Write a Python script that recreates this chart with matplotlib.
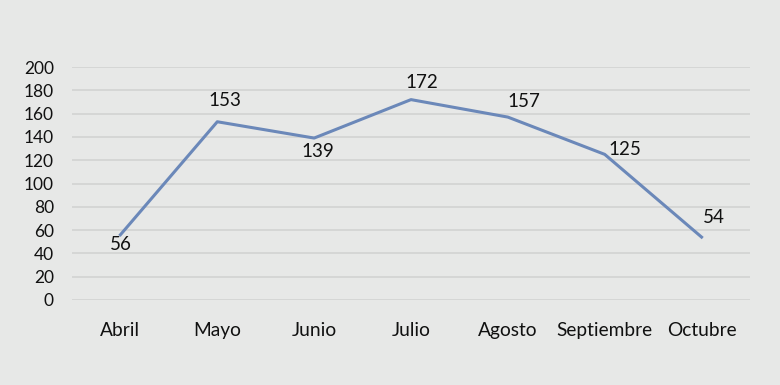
import matplotlib.pyplot as plt

# datos
meses = ['Abril', 'Mayo', 'Junio', 'Julio', 'Agosto', 'Septiembre', 'Octubre']
valores = [56, 153, 139, 172, 157, 125, 54]
y_ticks = [0, 20, 40, 60, 80, 100, 120, 140, 160, 180, 200]

# desplazamiento de las etiquetas (pixeles)
offsets = [(0, -10), (8, 21), (4, -13), (11, 17), (16, 16), (20, 5), (12, 20)]

plt.rcParams['font.family'] = ['Lato', 'DejaVu Sans']

bg = '#e7e8e7'
fig = plt.figure(figsize=(7.8, 3.85), dpi=100, facecolor=bg)
ax = fig.add_axes([72 / 780, 85 / 385, 678 / 780, 233 / 385])
ax.set_facecolor(bg)

x = range(len(meses))
ax.plot(x, valores, color='#6b88b9', linewidth=2.2, zorder=3)

for i, v in enumerate(valores):
    ax.annotate(str(v), (i, v), xytext=offsets[i], textcoords='offset pixels',
                ha='center', va='center', fontsize=13.5, color='#111111')

ax.set_xlim(-0.5, len(meses) - 0.5)
ax.set_ylim(0, 200)
ax.set_yticks(y_ticks)
ax.set_xticks(list(x))
ax.set_xticklabels(meses)
ax.tick_params(axis='y', length=0, pad=13, labelsize=12.5, labelcolor='#111111')
ax.tick_params(axis='x', length=0, pad=16, labelsize=13.8, labelcolor='#111111')
ax.grid(axis='y', color='#d2d3d2', linewidth=1.2)
ax.set_axisbelow(True)
for s in ax.spines.values():
    s.set_visible(False)

fig.savefig('out.png', dpi=100, facecolor=bg)
